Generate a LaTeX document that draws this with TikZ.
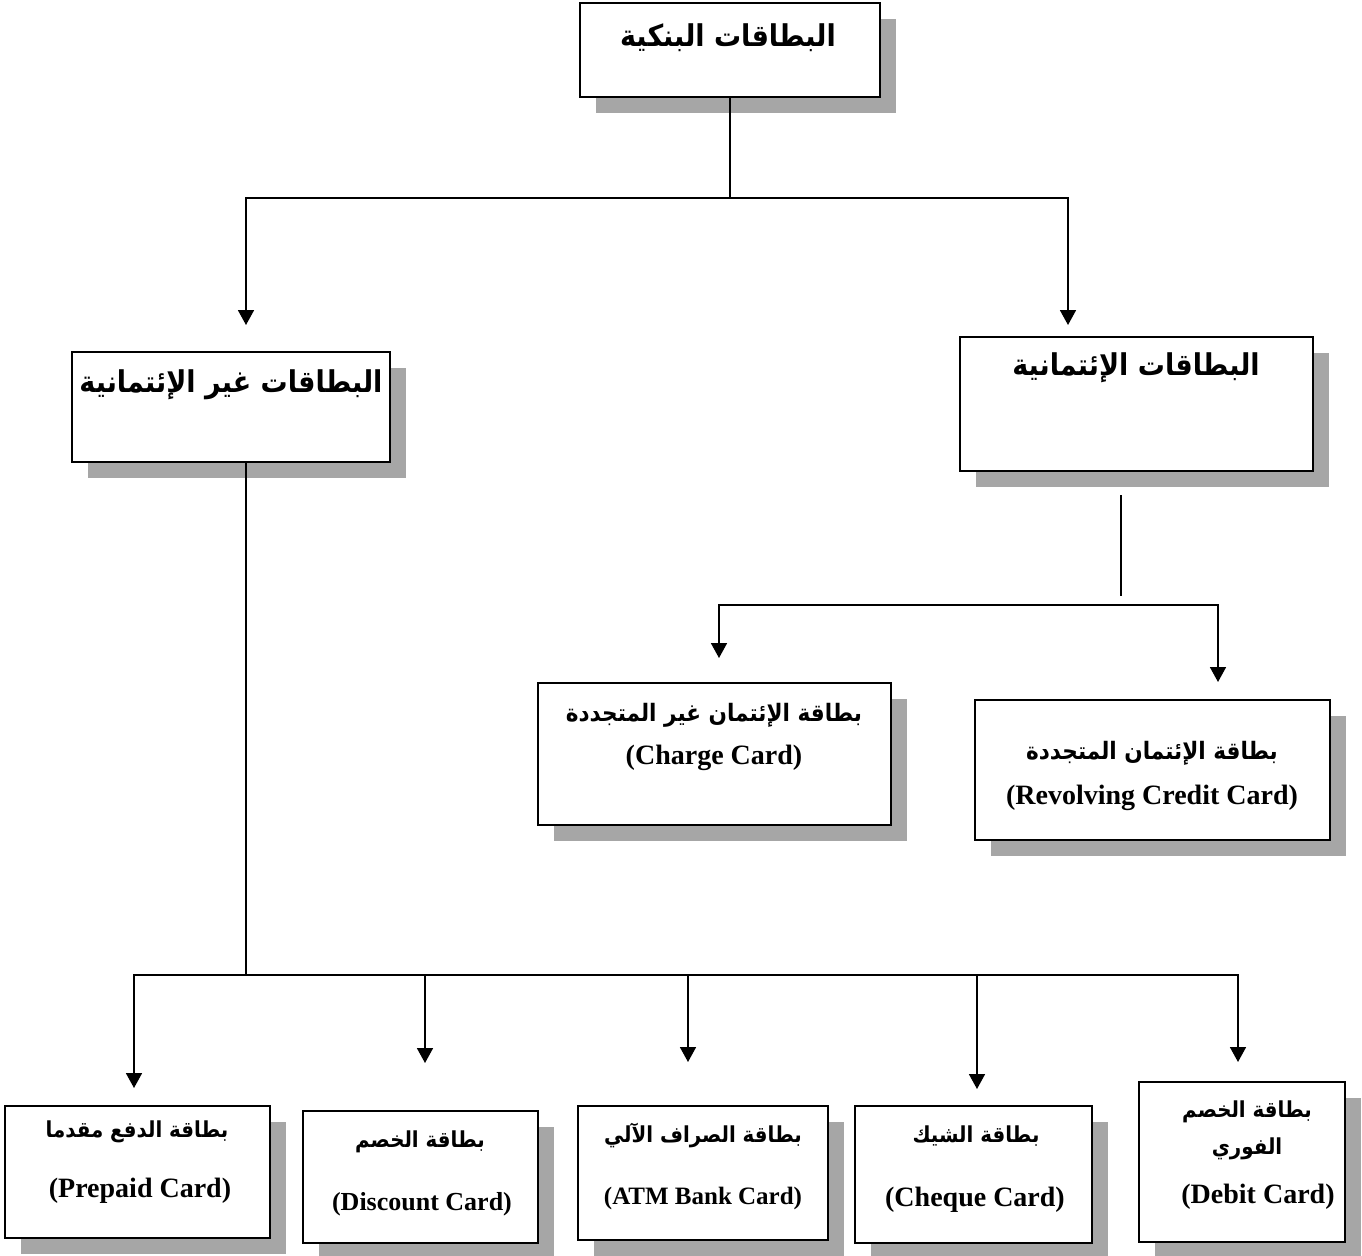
\documentclass[tikz,border=0pt]{standalone}
\usepackage{fontspec}
\setmainfont{Liberation Serif}
\newfontfamily\arabicfont[Script=Arabic,FakeStretch=0.9]{DejaVu Sans}
\TeXXeTstate=1
\usetikzlibrary{arrows.meta,shadows}
\newcommand{\artxt}[1]{{\arabicfont\bfseries\beginR #1\endR}}

\begin{document}
\begin{tikzpicture}[
  x=0.5pt, y=-0.5pt,
  box/.style={draw, fill=white, line width=0.9pt, inner sep=0pt, outer sep=0pt,
    drop shadow={shadow xshift=8pt, shadow yshift=-8pt, fill=black!35, opacity=1}},
  arrow/.style={-{Triangle[length=7.5pt,width=8pt]}, line width=0.9pt},
  link/.style={line width=0.9pt},
  head/.style={font=\fontsize{15}{18}\selectfont},
  sub/.style={font=\fontsize{12}{15}\selectfont},
  small/.style={font=\fontsize{11}{14}\selectfont},
  eng/.style={font=\fontsize{14}{16}\selectfont\bfseries}
]
\useasboundingbox (0,0) rectangle (1362,1255);

% boxes
\node[box, minimum width=150pt, minimum height=47pt] (bank) at (730,50) {};
\node[box, minimum width=159pt, minimum height=55pt] (noncredit) at (231,407) {};
\node[box, minimum width=176.5pt, minimum height=67pt] (credit) at (1136.5,404) {};
\node[box, minimum width=176.5pt, minimum height=71pt] (charge) at (714.5,754) {};
\node[box, minimum width=177.5pt, minimum height=70pt] (revolving) at (1152.5,770) {};
\node[box, minimum width=132.5pt, minimum height=66pt] (prepaid) at (137.5,1172) {};
\node[box, minimum width=117.5pt, minimum height=66pt] (discount) at (420.5,1177) {};
\node[box, minimum width=125pt, minimum height=67pt] (atm) at (703,1173) {};
\node[box, minimum width=118.5pt, minimum height=68.5pt] (cheque) at (973.5,1174.5) {};
\node[box, minimum width=103pt, minimum height=80pt] (debit) at (1242,1162) {};

% texts
\node[head] (bankT) at (728,38) {\artxt{البطاقات البنكية}};
\node[head] (noncreditT) at (231,385) {\artxt{البطاقات غير الإئتمانية}};
\node[head] (creditT) at (1136,368) {\artxt{البطاقات الإئتمانية}};
\node[sub] (chargeA) at (714,715) {\artxt{بطاقة الإئتمان غير المتجددة}};
\node[eng] (chargeE) at (714,758) {(Charge Card)};
\node[sub] (revolvingA) at (1152,753) {\artxt{بطاقة الإئتمان المتجددة}};
\node[eng] (revolvingE) at (1152,798) {(Revolving Credit Card)};
\node[small] (prepaidA) at (137,1132) {\artxt{بطاقة الدفع مقدما}};
\node[eng] (prepaidE) at (140,1191) {(Prepaid Card)};
\node[small] (discountA) at (420,1142) {\artxt{بطاقة الخصم}};
\node[eng, font=\fontsize{13}{15}\selectfont\bfseries] (discountE) at (422,1204) {(Discount Card)};
\node[small] (atmA) at (703,1135) {\artxt{بطاقة الصراف الآلي}};
\node[eng, font=\fontsize{12.5}{15}\selectfont\bfseries] (atmE) at (703,1198) {(ATM Bank Card)};
\node[small] (chequeA) at (976,1136) {\artxt{بطاقة الشيك}};
\node[eng] (chequeE) at (975,1200) {(Cheque Card)};
\node[small] (debitA) at (1247,1112) {\artxt{بطاقة الخصم}};
\node[small] (debitB) at (1247,1149) {\artxt{الفوري}};
\node[eng] (debitE) at (1258,1197) {(Debit Card)};

% connectors
\coordinate (j1) at (730,198);
\coordinate (tipNC) at (246,325);
\coordinate (tipCR) at (1068,325);
\draw[link] (bank.south) -- (j1);
\draw[arrow] (j1) -| (tipNC);
\draw[arrow] (j1) -| (tipCR);

\coordinate (s1) at (1121,495);
\coordinate (j2) at (1121,605);
\coordinate (tipCh) at (719,658);
\coordinate (tipRv) at (1218,682);
\draw[link] (s1) -- ([yshift=4.5pt]j2);
\draw[arrow] (j2) -| (tipCh);
\draw[arrow] (j2) -| (tipRv);

\coordinate (j3) at (246,975);
\coordinate (tPr) at (134,1088);
\coordinate (tDi) at (425,1063);
\coordinate (tAt) at (688,1062);
\coordinate (tCq) at (977,1089);
\coordinate (tDe) at (1238,1062);
\draw[link] (j3 |- noncredit.south) -- (j3);
\foreach \t in {tPr,tDi,tAt,tCq,tDe}
  \draw[arrow] (j3) -| (\t);
\end{tikzpicture}
\end{document}
